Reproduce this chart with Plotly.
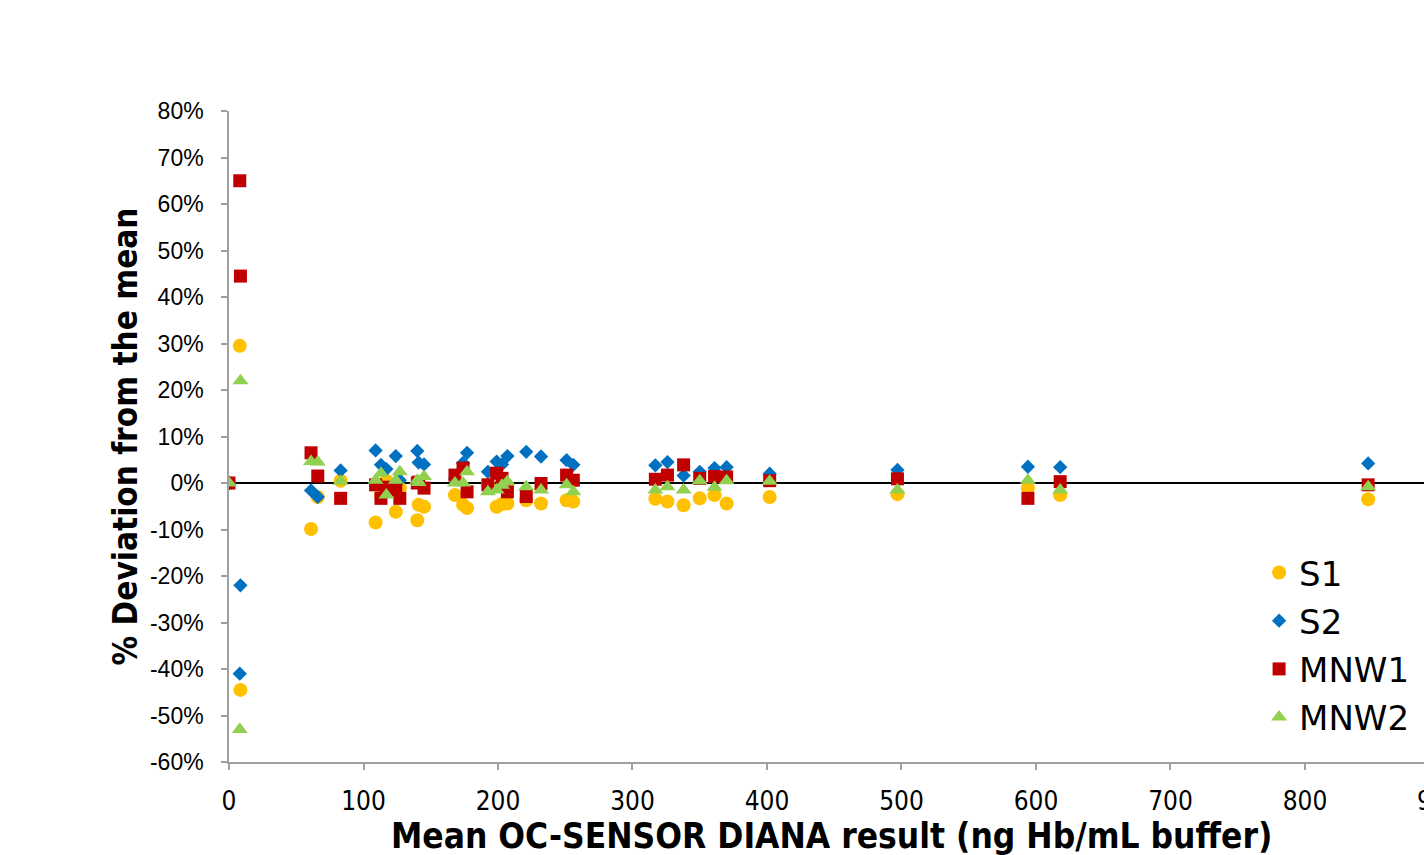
import plotly.graph_objects as go

# Mean OC-SENSOR DIANA result (ng Hb/mL buffer) for each sample
mean_result = [0, 8, 8.5, 61, 66, 83, 109, 113, 117, 124, 127, 140, 141, 145,
               168, 174, 177, 192.5, 199, 203, 207, 221, 232, 251, 256,
               317, 326, 338, 350, 361, 370, 402, 497, 594, 618, 847]

# % deviation from the mean
s1 = [0, 29.5, -44.5, -9.9, -3.0, 0.5, -8.5, -2.7, 0.5, -6.2, -1.1, -8.0, -4.7, -5.1,
      -2.6, -4.7, -5.4, -0.3, -5.1, -4.5, -4.4, -3.7, -4.4, -3.7, -4.0,
      -3.4, -4.0, -4.8, -3.3, -2.6, -4.4, -3.0, -2.4, -1.1, -2.6, -3.5]
s2 = [0, -41.0, -22.0, -1.6, -3.0, 2.7, 7.0, 3.9, 3.0, 5.8, 0.6, 6.9, 4.4, 4.0,
      0.9, 4.3, 6.5, 2.4, 4.6, 4.0, 5.8, 6.7, 5.7, 4.9, 3.9,
      3.8, 4.5, 1.6, 2.4, 3.2, 3.4, 2.0, 2.8, 3.5, 3.4, 4.2]
mnw1 = [0, 65.0, 44.5, 6.5, 1.5, -3.3, -0.4, -3.3, -0.9, -1.5, -3.3, 0.0, 0.2, -1.1,
        1.7, 3.2, -1.9, -0.4, 2.1, 1.0, -1.9, -2.9, -0.1, 1.7, 0.6,
        0.8, 1.7, 3.9, 1.0, 1.4, 1.3, 0.5, 0.9, -3.3, 0.3, -0.4]
mnw2 = [0, -53.0, 22.0, 4.6, 4.5, 0.4, 0.6, 2.1, -2.6, 0.6, 2.4, 0.6, 0.1, 1.4,
        0.0, 0.0, 2.4, -1.9, -1.5, -0.5, 0.3, -0.8, -1.5, -0.4, -1.9,
        -1.5, -0.8, -1.5, 0.5, -0.9, 0.5, 0.4, -1.5, 0.6, -1.5, -0.8]

series_names = ["S1", "S2", "MNW1", "MNW2"]
y_ticks = [-60, -50, -40, -30, -20, -10, 0, 10, 20, 30, 40, 50, 60, 70, 80]
y_tick_labels = ["-60%", "-50%", "-40%", "-30%", "-20%", "-10%", "0%", "10%",
                 "20%", "30%", "40%", "50%", "60%", "70%", "80%"]
x_ticks = [0, 100, 200, 300, 400, 500, 600, 700, 800]
x_title = "Mean OC-SENSOR DIANA result (ng Hb/mL buffer)"
y_title = "% Deviation from the mean"

styles = [
    dict(color="#FFC000", symbol="circle", size=14),
    dict(color="#0070C0", symbol="diamond", size=11),
    dict(color="#C00000", symbol="square", size=13),
    dict(color="#92D050", symbol="triangle-up", size=14),
]

fig = go.Figure()
for name, vals, st in zip(series_names, [s1, s2, mnw1, mnw2], styles):
    fig.add_trace(go.Scatter(
        x=mean_result, y=vals, mode="markers", name=name,
        legendgroup=name,
        marker=dict(color=st["color"], symbol=st["symbol"], size=st["size"],
                    line=dict(width=0)),
    ))

narrow = "Liberation Sans Narrow, DejaVu Sans Condensed, Arial Narrow, sans-serif"

fig.update_layout(
    width=1424, height=855,
    margin=dict(l=229, r=0, t=111, b=93),
    paper_bgcolor="white", plot_bgcolor="white",
    showlegend=True,
    legend=dict(
        x=0.862, y=0.335, xanchor="left", yanchor="top",
        font=dict(family="DejaVu Sans, sans-serif", size=34, color="black"),
        bgcolor="rgba(255,255,255,0)",
        tracegroupgap=1, itemsizing="trace",
    ),
    xaxis=dict(
        range=[0, 888.5], tickvals=x_ticks, showgrid=False, zeroline=False,
        showline=True, linecolor="#A0A0A0", linewidth=1.5,
        ticks="outside", ticklen=6, tickcolor="#A0A0A0", tickwidth=1.5,
        tickfont=dict(family=narrow, size=26, color="black"),
        ticklabelstandoff=9,
    ),
    yaxis=dict(
        range=[-60, 80], tickvals=y_ticks, ticktext=y_tick_labels,
        showgrid=False, zeroline=True, zerolinecolor="black", zerolinewidth=1.5,
        showline=True, linecolor="#A0A0A0", linewidth=1.5,
        ticks="outside", ticklen=6, tickcolor="#A0A0A0", tickwidth=1.5,
        tickfont=dict(family="Liberation Sans, Arial, sans-serif", size=23, color="black"),
        ticklabelstandoff=13,
        title=dict(text=y_title, standoff=2,
                   font=dict(family=narrow, size=33, color="black", weight="bold")),
    ),
)

fig.add_annotation(
    text=x_title, xref="paper", yref="paper", x=0.5046, y=-0.113,
    xanchor="center", yanchor="middle", showarrow=False,
    font=dict(family=narrow, size=35, color="black", weight="bold"),
)
# partially visible tick label at the right edge
fig.add_annotation(
    text="900", xref="paper", yref="paper", x=(900 / 888.5), y=-0.06,
    xanchor="center", yanchor="middle", showarrow=False,
    font=dict(family=narrow, size=26, color="black"),
)

fig.write_html("out.html")
